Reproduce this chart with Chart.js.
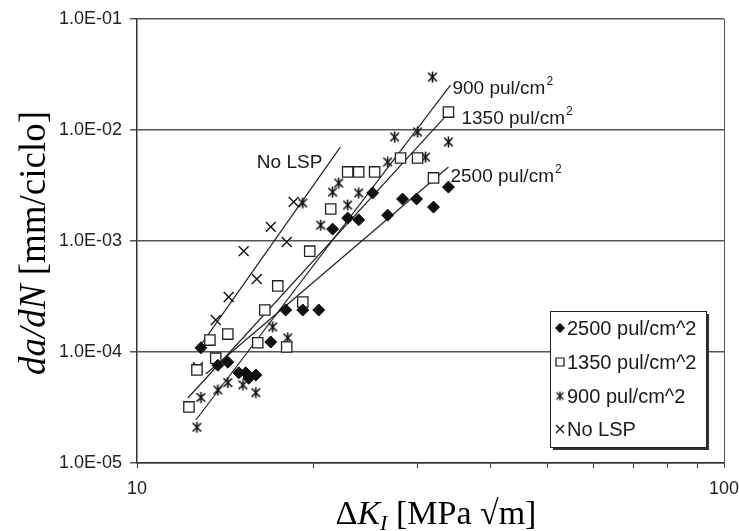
<!DOCTYPE html>
<html>
<head>
<meta charset="utf-8">
<script src="https://cdn.jsdelivr.net/npm/chart.js@4.4.0/dist/chart.umd.min.js"></script>
<style>
  html, body { margin: 0; padding: 0; background: #fff; }
  #wrap { width: 739px; height: 531px; }
</style>
</head>
<body>
<div id="wrap"><canvas id="grafico" width="739" height="531"></canvas></div>
<script>
// Datos: ΔK en MPa√m, da/dN en mm/ciclo
const series = ['2500 pul/cm^2', '1350 pul/cm^2', '900 pul/cm^2', 'No LSP'];

const dk2500   = [12.85, 13.73, 14.28, 14.91, 15.32, 15.50, 15.94, 16.90, 17.92, 19.16, 20.40, 21.54, 22.85, 23.86, 25.20, 26.73, 28.34, 29.94, 32.00, 33.93];
const dadn2500 = [1.09e-4, 7.6e-5, 8.1e-5, 6.5e-5, 6.5e-5, 5.8e-5, 6.2e-5, 1.23e-4, 2.39e-4, 2.39e-4, 2.39e-4, 1.28e-3, 1.61e-3, 1.55e-3, 2.71e-3, 1.71e-3, 2.39e-3, 2.39e-3, 2.02e-3, 3.06e-3];

const dk1350   = [12.26, 12.65, 13.31, 13.62, 14.28, 16.06, 16.51, 17.37, 17.99, 19.16, 19.69, 21.38, 22.85, 23.86, 25.40, 28.12, 30.06, 32.00, 33.93];
const dadn1350 = [3.2e-5, 6.9e-5, 1.28e-4, 8.8e-5, 1.45e-4, 1.21e-4, 2.39e-4, 3.94e-4, 1.11e-4, 2.82e-4, 8.1e-4, 1.94e-3, 4.19e-3, 4.19e-3, 4.19e-3, 5.6e-3, 5.6e-3, 3.7e-3, 1.45e-2];

const dk900   = [12.65, 12.85, 13.73, 14.28, 15.15, 15.94, 17.03, 18.06, 19.16, 20.56, 21.54, 22.06, 22.85, 23.86, 26.73, 27.47, 30.06, 31.01, 31.87, 33.93];
const dadn900 = [2.1e-5, 3.9e-5, 4.55e-5, 5.3e-5, 5.05e-5, 4.3e-5, 1.68e-4, 1.34e-4, 2.2e-3, 1.39e-3, 2.76e-3, 3.33e-3, 2.11e-3, 2.71e-3, 5.15e-3, 8.65e-3, 9.6e-3, 5.7e-3, 3.0e-2, 7.8e-3];

const dkNoLsp   = [12.70, 13.62, 14.33, 15.20, 16.00, 16.90, 17.99, 18.49];
const dadnNoLsp = [7.3e-5, 1.94e-4, 3.13e-4, 8.1e-4, 4.55e-4, 1.34e-3, 9.8e-4, 2.25e-3];

// Rectas de ajuste (extremos)
const ajuste2500Dk    = [13.10, 33.93];
const ajuste2500Dadn  = [6.34e-5, 4.64e-3];
const ajuste1350Dk    = [12.21, 33.93];
const ajuste1350Dadn  = [3.85e-5, 1.42e-2];
const ajuste900Dk     = [12.60, 34.2];
const ajuste900Dadn   = [2.44e-5, 2.54e-2];
const ajusteNoLspDk   = [12.85, 22.2];
const ajusteNoLspDadn = [1.16e-4, 7.0e-3];
const etiquetasAjuste = ['2500 pul/cm', '1350 pul/cm', '900 pul/cm', 'No LSP'];

// Ejes
const ejeYTicks = [1e-5, 1e-4, 1e-3, 1e-2, 1e-1];
const ejeXTicks = [10, 20, 30, 40, 50, 60, 70, 80, 90, 100];
const ejeXEtiquetas = [10, 100];

const SANS = '"Liberation Sans", Arial, sans-serif';
const SERIF = '"Liberation Serif", "Times New Roman", serif';

function puntos(xs, ys) {
    return xs.map((x, i) => ({ x: x, y: ys[i] }));
}

// Marcador asterisco estilo Excel (aspa + barra vertical)
function crearAsterisco(tam, grosor) {
    const c = document.createElement('canvas');
    c.width = tam; c.height = tam;
    const g = c.getContext('2d');
    const m = tam / 2, r = tam / 2 - 1, d = r * 0.78;
    g.strokeStyle = '#111';
    g.lineWidth = grosor;
    g.beginPath();
    g.moveTo(m - d, m - d); g.lineTo(m + d, m + d);
    g.moveTo(m + d, m - d); g.lineTo(m - d, m + d);
    g.moveTo(m, m - r); g.lineTo(m, m + r);
    g.stroke();
    return c;
}
const asterisco = crearAsterisco(13, 1.6);
const asteriscoLeyenda = crearAsterisco(11, 1.3);

function formatoCientifico(v) {
    const e = Math.round(Math.log10(v));
    const signo = e < 0 ? '-' : '+';
    return '1.0E' + signo + String(Math.abs(e)).padStart(2, '0');
}

function recta(xs, ys) {
    return {
        data: puntos(xs, ys), showLine: true, borderColor: '#222', borderWidth: 1.2,
        pointRadius: 0, fill: false
    };
}

// Textos, leyenda y títulos dibujados a mano
const decoracion = {
    id: 'decoracion',
    beforeDraw(chart) {
        const ctx = chart.ctx;
        ctx.save();
        ctx.fillStyle = '#fff';
        ctx.fillRect(0, 0, chart.width, chart.height);
        ctx.restore();
    },
    beforeDatasetsDraw(chart) {
        const a = chart.chartArea, ctx = chart.ctx;
        ctx.save();
        ctx.strokeStyle = '#555';
        ctx.lineWidth = 1;
        ctx.beginPath();
        ctx.moveTo(a.right + 0.5, a.top);
        ctx.lineTo(a.right + 0.5, a.bottom);
        ctx.stroke();
        ctx.restore();
    },
    afterDatasetsDraw(chart) {
        const ctx = chart.ctx;
        ctx.save();
        ctx.fillStyle = '#1a1a1a';
        ctx.textBaseline = 'middle';

        // etiquetas de las rectas, junto a su extremo superior
        const desplaz = [[2, 10, 'left'], [13, 6, 'left'], [2, 4, 'left'], [-18, 16, 'right']];
        [4, 5, 6, 7].forEach((idx, k) => {
            const meta = chart.getDatasetMeta(idx);
            const p = meta.data[meta.data.length - 1];
            const [dx, dy, al] = desplaz[k];
            const txt = etiquetasAjuste[k];
            ctx.font = '19px ' + SANS;
            ctx.textAlign = 'left';
            let x0 = p.x + dx;
            const w = ctx.measureText(txt).width;
            if (al === 'right') x0 -= w;
            ctx.fillText(txt, x0, p.y + dy);
            if (k < 3) {
                ctx.font = '12px ' + SANS;
                ctx.fillText('2', x0 + w + 1, p.y + dy - 7);
            }
        });

        // leyenda
        const lx = 550, ly = 311, lw = 156, lh = 136;
        ctx.fillStyle = '#333';
        ctx.fillRect(lx + 3, ly + 3, lw, lh);
        ctx.fillStyle = '#fff';
        ctx.fillRect(lx, ly, lw, lh);
        ctx.strokeStyle = '#222';
        ctx.lineWidth = 1;
        ctx.strokeRect(lx + 0.5, ly + 0.5, lw, lh);
        const filas = [328, 362, 396, 429];
        const mx = 560;
        ctx.font = '20px ' + SANS;
        ctx.textAlign = 'left';
        series.forEach((nombre, k) => {
            const y = filas[k];
            ctx.fillStyle = '#111';
            ctx.strokeStyle = '#111';
            ctx.lineWidth = 1.2;
            ctx.beginPath();
            if (k === 0) {
                ctx.moveTo(mx, y - 5); ctx.lineTo(mx + 5, y); ctx.lineTo(mx, y + 5); ctx.lineTo(mx - 5, y);
                ctx.closePath(); ctx.fill();
            } else if (k === 1) {
                ctx.fillStyle = '#fff';
                ctx.rect(mx - 4, y - 4, 8, 8); ctx.fill(); ctx.stroke();
            } else if (k === 2) {
                ctx.drawImage(asteriscoLeyenda, mx - 5.5, y - 5.5);
            } else {
                ctx.moveTo(mx - 4, y - 4); ctx.lineTo(mx + 4, y + 4);
                ctx.moveTo(mx + 4, y - 4); ctx.lineTo(mx - 4, y + 4);
                ctx.stroke();
            }
            ctx.fillStyle = '#1a1a1a';
            ctx.fillText(nombre, 567, y + 1);
        });

        // título eje X: ΔK_I [MPa √m]
        ctx.fillStyle = '#000';
        ctx.textBaseline = 'alphabetic';
        const partesX = [
            ['Δ', '34px ' + SERIF, 0],
            ['K', 'italic 34px ' + SERIF, 0],
            ['I', 'italic 22px ' + SERIF, 6],
            [' [MPa √m]', '34px ' + SERIF, 0]
        ];
        let ancho = 0;
        partesX.forEach(p => { ctx.font = p[1]; ancho += ctx.measureText(p[0]).width; });
        let xx = 436 - ancho / 2;
        partesX.forEach(p => {
            ctx.font = p[1];
            ctx.fillText(p[0], xx, 524 + p[2]);
            xx += ctx.measureText(p[0]).width;
        });

        // título eje Y: da/dN [mm/ciclo]
        ctx.translate(45, 243);
        ctx.rotate(-Math.PI / 2);
        const partesY = [
            ['da/dN', 'italic 37px ' + SERIF],
            [' [mm/ciclo]', '37px ' + SERIF]
        ];
        ancho = 0;
        partesY.forEach(p => { ctx.font = p[1]; ancho += ctx.measureText(p[0]).width; });
        xx = -ancho / 2;
        partesY.forEach(p => {
            ctx.font = p[1];
            ctx.fillText(p[0], xx, 0);
            xx += ctx.measureText(p[0]).width;
        });
        ctx.restore();
    }
};

new Chart(document.getElementById('grafico').getContext('2d'), {
    type: 'scatter',
    data: {
        datasets: [
            { label: series[0], data: puntos(dk2500, dadn2500), pointStyle: 'rectRot', pointRadius: 6,
              backgroundColor: '#111', borderColor: '#111', borderWidth: 1 },
            { label: series[1], data: puntos(dk1350, dadn1350), pointStyle: 'rect', pointRadius: 7.3,
              backgroundColor: '#fff', borderColor: '#222', borderWidth: 1.3 },
            { label: series[2], data: puntos(dk900, dadn900), pointStyle: asterisco, pointRadius: 6 },
            { label: series[3], data: puntos(dkNoLsp, dadnNoLsp), pointStyle: 'crossRot', pointRadius: 7,
              borderColor: '#111', borderWidth: 1.4 },
            recta(ajuste2500Dk, ajuste2500Dadn),
            recta(ajuste1350Dk, ajuste1350Dadn),
            recta(ajuste900Dk, ajuste900Dadn),
            recta(ajusteNoLspDk, ajusteNoLspDadn)
        ]
    },
    options: {
        responsive: false,
        animation: false,
        events: [],
        layout: { padding: { top: 19, right: 15, bottom: 0, left: 0 }, autoPadding: false },
        plugins: { legend: { display: false }, tooltip: { enabled: false } },
        scales: {
            x: {
                type: 'logarithmic', min: 10, max: 100,
                afterBuildTicks: s => { s.ticks = ejeXTicks.map(v => ({ value: v })); },
                afterFit: s => { s.height = 68; s.paddingLeft = 0; s.paddingRight = 0; },
                ticks: {
                    autoSkip: false, maxRotation: 0, padding: 10,
                    font: { family: SANS, size: 18 }, color: '#222',
                    callback: v => ejeXEtiquetas.includes(v) ? String(v) : ''
                },
                grid: { drawOnChartArea: false, drawTicks: true, tickLength: 5, color: '#444', lineWidth: 1 },
                border: { display: true, color: '#333', width: 1.5 }
            },
            y: {
                type: 'logarithmic', min: 1e-5, max: 1e-1,
                afterBuildTicks: s => { s.ticks = ejeYTicks.map(v => ({ value: v })); },
                afterFit: s => { s.width = 137; s.paddingTop = 0; s.paddingBottom = 0; },
                ticks: {
                    autoSkip: false, padding: 8,
                    font: { family: SANS, size: 18 }, color: '#222',
                    callback: v => formatoCientifico(v)
                },
                grid: { color: '#555', lineWidth: 1.5, drawTicks: true, tickLength: 7 },
                border: { display: true, color: '#333', width: 1.5 }
            }
        }
    },
    plugins: [decoracion]
});
</script>
</body>
</html>
